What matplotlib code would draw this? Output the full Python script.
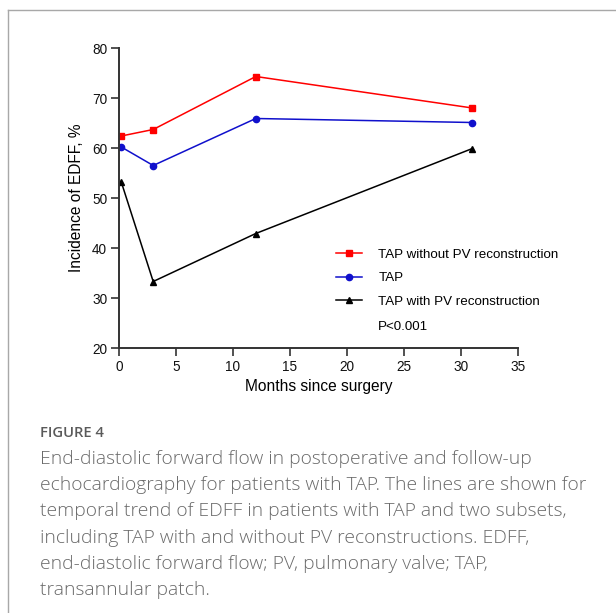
import matplotlib
matplotlib.use("Agg")
import matplotlib.pyplot as plt
from matplotlib.lines import Line2D

# data
months = [0.2, 3, 12, 31]
tap_without_pv = [62.4, 63.7, 74.3, 68.0]
tap_all = [60.2, 56.5, 65.9, 65.1]
tap_with_pv = [53.2, 33.3, 42.9, 59.9]
series_labels = ["TAP without PV reconstruction", "TAP", "TAP with PV reconstruction"]
p_text = "P<0.001"

caption_title = "FIGURE 4"
caption_lines = [
    "End-diastolic forward flow in postoperative and follow-up",
    "echocardiography for patients with TAP. The lines are shown for",
    "temporal trend of EDFF in patients with TAP and two subsets,",
    "including TAP with and without PV reconstructions. EDFF,",
    "end-diastolic forward flow; PV, pulmonary valve; TAP,",
    "transannular patch.",
]

W, H = 616, 613
fig = plt.figure(figsize=(W / 100, H / 100), dpi=100)
plt.rcParams["font.family"] = ["Liberation Sans", "DejaVu Sans"]

# journal frame (top + left)
frame_c = "#a8a8a8"
fig.add_artist(Line2D([8 / W, 1], [1 - 10 / H, 1 - 10 / H], color=frame_c, lw=1.0))
fig.add_artist(Line2D([8 / W, 8 / W], [0, 1 - 10 / H], color=frame_c, lw=1.0))

ax = fig.add_axes([119 / W, 1 - 348 / H, 399 / W, 300 / H])
ax.plot(months, tap_without_pv, color="#ff0000", marker="s", ms=4.5, lw=1.1, label=series_labels[0])
ax.plot(months, tap_all, color="#1010cc", marker="o", ms=4.5, lw=1.1, label=series_labels[1])
ax.plot(months, tap_with_pv, color="black", marker="^", ms=4.2, lw=1.1, label=series_labels[2])

ax.set_xlim(0, 35)
ax.set_ylim(20, 80)
ax.set_xticks(range(0, 36, 5))
ax.set_yticks(range(20, 81, 10))
for s in ["top", "right"]:
    ax.spines[s].set_visible(False)
for s in ["left", "bottom"]:
    ax.spines[s].set_color("#333333")
    ax.spines[s].set_linewidth(1.4)
ax.tick_params(direction="out", length=5.5, width=1.2, color="#333333",
               labelsize=9.8, labelcolor="#111111", pad=3)
ax.set_xlabel("Months since surgery", fontsize=11.2, labelpad=4)
ax.set_ylabel("Incidence of EDFF, %", fontsize=11.2, labelpad=6)

ax.legend(loc="upper left", bbox_to_anchor=(0.545, 0.332), frameon=False,
          fontsize=9.6, handlelength=1.95, handletextpad=1.2, labelspacing=0.85,
          borderpad=0, borderaxespad=0)
ax.text(0.649, 0.07, p_text, transform=ax.transAxes, fontsize=9.6, va="center")

# caption
fig.text(40 / W, 1 - 433 / H, caption_title, fontsize=10.6, fontweight="semibold",
         color="#5a5a5a", va="center", family=["Open Sans", "DejaVu Sans"])
for i, line in enumerate(caption_lines):
    fig.text(40 / W, 1 - (459 + i * 26.2) / H, line, fontsize=13.9, color="#6a6a6a",
             va="center", fontweight="light", family=["Open Sans", "DejaVu Sans"])

fig.savefig("out.png", dpi=100)
